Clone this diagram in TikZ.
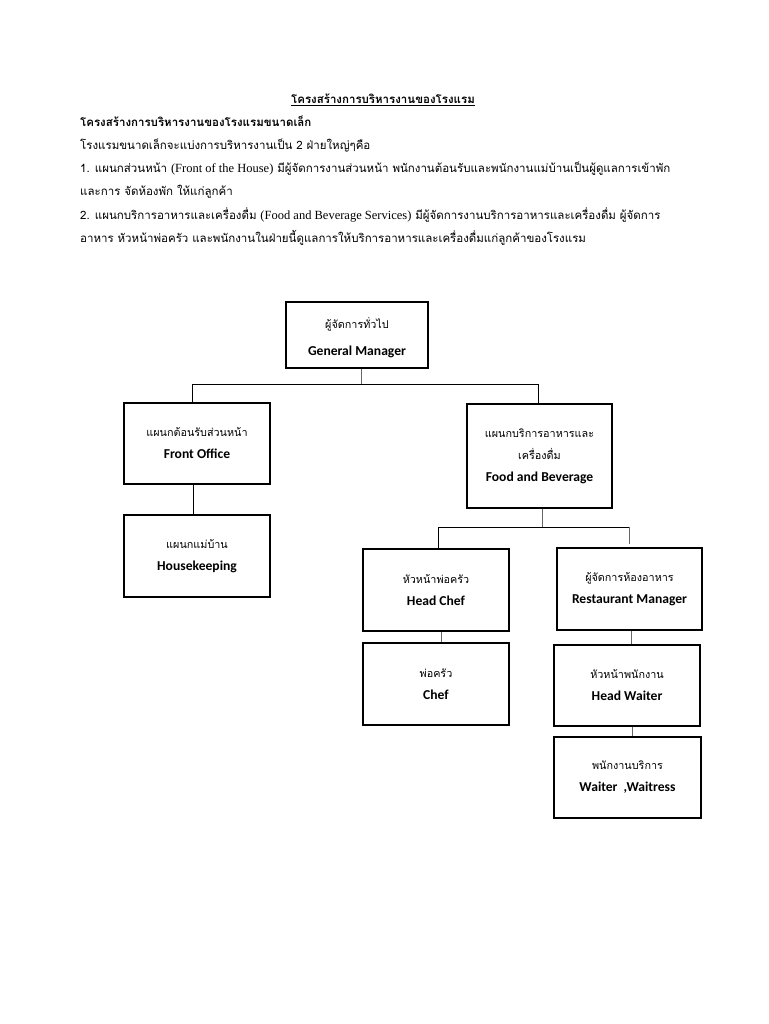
\documentclass[tikz,border=0pt]{standalone}
\usepackage{fontspec}
\setmainfont{Liberation Serif}
\newfontfamily\thai[Script=Thai]{Loma}
\newfontfamily\eng{Carlito}
\newfontfamily\lat{Liberation Serif}
\tikzset{
  box/.style={draw=black, line width=1.3pt, fill=white, inner sep=0pt, align=center,
    font=\thai\fontsize{10.8}{22}\selectfont},
  link/.style={draw=black, line width=0.9pt},
  stub/.style={draw=black!60, line width=0.7pt},
  para/.style={anchor=base west, inner sep=0pt, font=\thai\fontsize{11.5}{14}\selectfont}
}
\newcommand{\en}[1]{{\eng\bfseries\fontsize{13.6}{22}\selectfont #1}}
\newcommand{\lt}[1]{{\lat\fontsize{12.5}{14}\selectfont #1}}
\begin{document}
\begin{tikzpicture}[x=1pt,y=-1pt]
\useasboundingbox[fill=white] (0,0) rectangle (768,1024);
% top text
\node[anchor=base, inner sep=0pt, font=\thai\bfseries\fontsize{11.5}{14}\selectfont] (title) at (383,104) {\underline{โครงสร้างการบริหารงานของโรงแรม}};
\node[para, font=\thai\bfseries\fontsize{11.5}{14}\selectfont] (t2) at (80,127) {โครงสร้างการบริหารงานของโรงแรมขนาดเล็ก};
\node[para] (t3) at (80,150) {โรงแรมขนาดเล็กจะแบ่งการบริหารงานเป็น 2 ฝ่ายใหญ่ๆคือ};
\node[para] (t4) at (80,173) {1. แผนกส่วนหน้า \lt{(Front of the House)} มีผู้จัดการงานส่วนหน้า พนักงานต้อนรับและพนักงานแม่บ้านเป็นผู้ดูแลการเข้าพัก};
\node[para] (t5) at (80,196) {และการ จัดห้องพัก ให้แก่ลูกค้า};
\node[para] (t6) at (80,220) {2. แผนกบริการอาหารและเครื่องดื่ม \lt{(Food and Beverage Services)} มีผู้จัดการงานบริการอาหารและเครื่องดื่ม ผู้จัดการ};
\node[para] (t7) at (80,243) {อาหาร หัวหน้าพ่อครัว และพนักงานในฝ่ายนี้ดูแลการให้บริการอาหารและเครื่องดื่มแก่ลูกค้าของโรงแรม};

% boxes
\node[box, minimum width=142pt, minimum height=66pt] (gm) at (357,335) {\rule{0pt}{17pt}ผู้จัดการทั่วไป\\[5pt]\en{General Manager}};
\node[box, minimum width=146pt, minimum height=81pt] (fo) at (197,443.5) {แผนกต้อนรับส่วนหน้า\\\en{Front Office}};
\node[box, minimum width=145pt, minimum height=104pt] (fb) at (539.5,456) {แผนกบริการอาหารและ\\เครื่องดื่ม\\\en{Food and Beverage}};
\node[box, minimum width=146pt, minimum height=82pt] (hk) at (197,556) {แผนกแม่บ้าน\\\en{Housekeeping}};
\node[box, minimum width=146pt, minimum height=82pt] (hc) at (436,590) {หัวหน้าพ่อครัว\\\en{Head Chef}};
\node[box, minimum width=146pt, minimum height=82pt] (chef) at (436,684) {พ่อครัว\\\en{Chef}};
\node[box, minimum width=145pt, minimum height=82pt] (rm) at (629.5,589) {ผู้จัดการห้องอาหาร\\\en{Restaurant Manager}};
\node[box, minimum width=146pt, minimum height=81pt] (hw) at (627,685.5) {หัวหน้าพนักงาน\\\en{Head Waiter}};
\node[box, minimum width=147pt, minimum height=81pt] (wt) at (627.5,777.5) {พนักงานบริการ\\\en{Waiter\ \ ,Waitress}};

% connectors
\coordinate (bus1) at (0,384);
\coordinate (bus2) at (0,527);
\draw[stub] ([xshift=4pt]gm.south) -- ([xshift=4pt]gm.south |- bus1);
\draw[link] ([xshift=-5pt]fo.north) -- ([xshift=-5pt]fo.north |- bus1) -- ([xshift=-1.5pt]fb.north |- bus1) -- ([xshift=-1.5pt]fb.north);
\draw[link] ([xshift=-4pt]fo.south) -- ([xshift=-4pt]hk.north);
\draw[stub] ([xshift=2.5pt]fb.south) -- ([xshift=2.5pt]fb.south |- bus2);
\draw[link] ([xshift=2pt]hc.north) -- ([xshift=2pt]hc.north |- bus2) -- (rm.north |- bus2);
\draw[stub] (rm.north |- bus2) -- ([yshift=3pt]rm.north);
\draw[stub] ([xshift=5pt]hc.south) -- ([xshift=5pt]chef.north);
\draw[stub] ([xshift=1.5pt]rm.south) -- ([xshift=4pt]hw.north);
\draw[stub] ([xshift=5pt]hw.south) -- ([xshift=4.5pt]wt.north);
\end{tikzpicture}
\end{document}
